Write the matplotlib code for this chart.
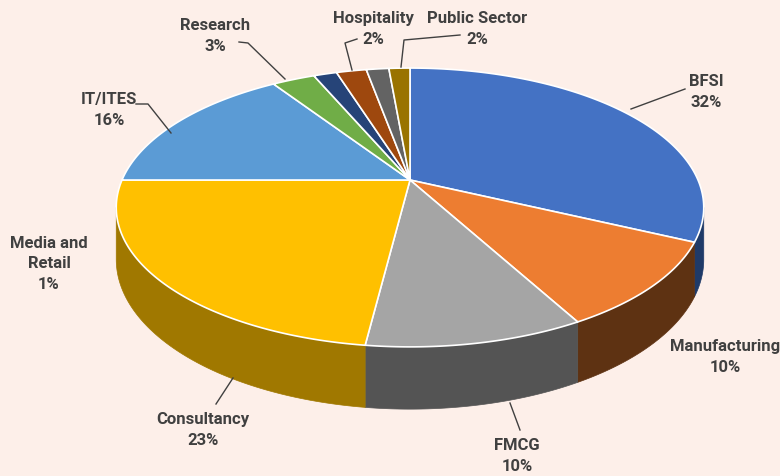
import numpy as np
import matplotlib.pyplot as plt
from matplotlib.patches import Polygon

# slice data, clockwise from 12 o'clock (sizes as drawn, labels as printed)
sectors = ["BFSI", "Manufacturing", "FMCG", "Consultancy", "IT/ITES",
           "Research", "Media and Retail", "Hospitality", "Other", "Public Sector"]
shares = [32, 10, 10, 23, 15.7, 2.85, 1.55, 2.0, 1.5, 1.4]
top_colors = ["#4472C4", "#ED7D31", "#A5A5A5", "#FFC000", "#5B9BD5",
              "#70AD47", "#264478", "#9E480E", "#636363", "#997300"]
side_colors = ["#1F3A68", "#5E3212", "#545454", "#A07800", "#2E5A85",
               "#3E6528", "#15264A", "#5A2808", "#383838", "#5A4400"]

# label texts and their anchors in pixels
label_texts = ["BFSI\n32%", "Manufacturing\n10%", "FMCG\n10%", "Consultancy\n23%",
               "IT/ITES\n16%", "Research\n3%", "Media and\nRetail\n1%",
               "Hospitality\n2%", "Public Sector\n2%"]
label_pos = [(706, 92), (725, 357), (517, 456), (203, 430),
             (109, 110), (215, 36), (49, 264), (373, 29), (477, 29)]
leaders = [
    [(631, 109), (685, 89)],
    None,
    [(510, 403), (520, 430)],
    [(233, 378), (216, 404)],
    [(171, 133), (148, 104), (136, 104)],
    [(285, 79), (248, 43), (239, 42)],
    None,
    [(352, 70), (345, 43), (357, 39)],
    [(401, 67), (404, 40), (460, 35)],
]

BG = "#FDEFE9"
CX, CY = 410, 180     # apex of the pie on screen
A, B = 288, 134       # horizontal / depth radii
K = 0.197             # perspective factor
H = 50                # thickness


def project(t, drop=0.0):
    # t: angle clockwise from the back (12 o'clock)
    u, v = np.sin(t), np.cos(t)
    d = 1 + K * v
    return CX + A * u / d, CY - B * v / d + drop / d


fig = plt.figure(figsize=(7.8, 4.76), dpi=100)
fig.patch.set_facecolor(BG)
ax = fig.add_axes([0, 0, 1, 1])
ax.set_xlim(0, 780)
ax.set_ylim(476, 0)
ax.axis("off")

edges = np.concatenate([[0], np.cumsum(shares)]) / sum(shares) * 2 * np.pi
vis_lo, vis_hi = np.arccos(-K), 2 * np.pi - np.arccos(-K)

# side walls (front part only)
for i in range(len(shares)):
    a0, a1 = max(edges[i], vis_lo), min(edges[i + 1], vis_hi)
    if a1 <= a0:
        continue
    t = np.linspace(a0, a1, 80)
    xt, yt = project(t)
    xb, yb = project(t, H)
    pts = np.column_stack([np.concatenate([xt, xb[::-1]]),
                           np.concatenate([yt, yb[::-1]])])
    ax.add_patch(Polygon(pts, closed=True, facecolor=side_colors[i],
                         edgecolor=side_colors[i], linewidth=0.5))

# top face
for i in range(len(shares)):
    t = np.linspace(edges[i], edges[i + 1], 120)
    xs, ys = project(t)
    pts = np.column_stack([np.concatenate([[CX], xs]), np.concatenate([[CY], ys])])
    ax.add_patch(Polygon(pts, closed=True, facecolor=top_colors[i],
                         edgecolor="white", linewidth=1.2, joinstyle="round"))

# labels and leader lines
for txt, (x, y), ld in zip(label_texts, label_pos, leaders):
    ax.text(x, y, txt, ha="center", va="center", fontsize=12,
            fontweight="bold", color="#404040", family="Roboto",
            linespacing=1.45)
    if ld:
        lx, ly = zip(*ld)
        ax.plot(lx, ly, color="#404040", linewidth=1)

fig.savefig("out.png", dpi=100, facecolor=BG)
